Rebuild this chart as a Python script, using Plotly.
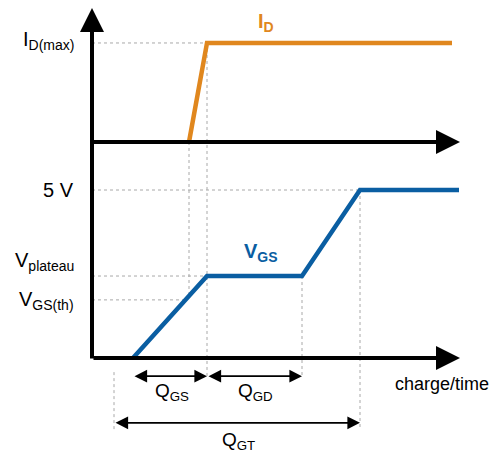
import plotly.graph_objects as go

# ---------------- data (schematic units) ----------------
# charge/time axis: arbitrary units
q_id = [9.7, 11.5, 36.0]          # drain current trace
i_d = [0.0, 1.0, 1.0]             # normalised I_D (1 = I_D(max))

V_PLATEAU = 2.44
V_TH = 1.73
V_FINAL = 5.0
q_vgs = [4.1, 11.5, 21.0, 26.8, 36.7]
v_gs = [0.0, V_PLATEAU, V_PLATEAU, V_FINAL, V_FINAL]

Q_AXIS_END = 36.8
I_AXIS_TOP = 1.354

left_labels = ["I<sub>D(max)</sub>", "5 V", "V<sub>plateau</sub>", "V<sub>GS(th)</sub>"]

# ---------------- layout geometry ----------------
W, H = 502, 453
X_RANGE = [-9.2, 41.0]
V_RANGE = [-2.827, 10.655]      # lower (gate voltage) panel scale
I_RANGE = [-3.141, 1.434]       # upper (drain current) panel scale


def v_to_i(v):
    f = (v - V_RANGE[0]) / (V_RANGE[1] - V_RANGE[0])
    return I_RANGE[0] + f * (I_RANGE[1] - I_RANGE[0])


def i_to_v(i):
    f = (i - I_RANGE[0]) / (I_RANGE[1] - I_RANGE[0])
    return V_RANGE[0] + f * (V_RANGE[1] - V_RANGE[0])


def vgs_at(q):
    for k in range(len(q_vgs) - 1):
        if q_vgs[k] <= q <= q_vgs[k + 1]:
            t = (q - q_vgs[k]) / (q_vgs[k + 1] - q_vgs[k])
            return v_gs[k] + t * (v_gs[k + 1] - v_gs[k])
    return 0.0


ORANGE = "#E0871E"
BLUE = "#0A5EA2"
GRID = "#A8A8A8"
FONT = "Liberation Sans, Arial, Helvetica, sans-serif"

Q_LEVEL_1 = -0.54   # Q_GS / Q_GD arrows
Q_LEVEL_2 = -1.93   # Q_GT arrow
Q_PRE = 2.2         # start of Q_GT

fig = go.Figure()


def dashed(xs, ys, yaxis="y"):
    fig.add_trace(go.Scatter(x=xs, y=ys, mode="lines", yaxis=yaxis,
                             line=dict(color=GRID, width=1, dash="dot"),
                             hoverinfo="skip", showlegend=False))


# guide lines
dashed([0, q_id[1]], [1, 1], "y2")
dashed([q_id[0], q_id[0]], [i_to_v(0), vgs_at(q_id[0])])
dashed([q_vgs[1], q_vgs[1]], [i_to_v(1), Q_LEVEL_1 - 0.05])
dashed([q_vgs[2], q_vgs[2]], [V_PLATEAU, Q_LEVEL_1])
dashed([q_vgs[3], q_vgs[3]], [V_FINAL, Q_LEVEL_2 - 0.2])
dashed([Q_PRE, Q_PRE], [Q_LEVEL_1 + 0.12, Q_LEVEL_2 - 0.2])
dashed([0, q_vgs[3]], [V_FINAL, V_FINAL])
dashed([0, q_vgs[1]], [V_PLATEAU, V_PLATEAU])
q_th = q_vgs[0] + V_TH / V_PLATEAU * (q_vgs[1] - q_vgs[0])
dashed([0, q_th], [V_TH, V_TH])

# traces
fig.add_trace(go.Scatter(x=q_id, y=i_d, yaxis="y2", mode="lines",
                         line=dict(color=ORANGE, width=4.5),
                         hoverinfo="skip", showlegend=False))
fig.add_trace(go.Scatter(x=q_vgs, y=v_gs, mode="lines",
                         line=dict(color=BLUE, width=4.5),
                         hoverinfo="skip", showlegend=False))

ann = []


def arrow(x, y, ax, ay, yref="y", width=4, size=1.2, both=False):
    ann.append(dict(x=x, y=y, ax=ax, ay=ay, xref="x", yref=yref,
                    axref="x", ayref=yref, text="", showarrow=True,
                    arrowhead=2, arrowwidth=width, arrowsize=size,
                    arrowcolor="black", standoff=0, startstandoff=0,
                    startarrowhead=2, startarrowsize=size,
                    arrowside="end+start" if both else "end"))


# axes
arrow(Q_AXIS_END, 0, -0.0, 0, "y2")
arrow(Q_AXIS_END, 0, -0.0, 0, "y")
arrow(0, I_AXIS_TOP, 0, v_to_i(-0.06), "y2")

# charge spans
arrow(q_vgs[1], Q_LEVEL_1, q_vgs[0], Q_LEVEL_1, width=1.8, size=1.4, both=True)
arrow(q_vgs[2], Q_LEVEL_1, q_vgs[1], Q_LEVEL_1, width=1.8, size=1.4, both=True)
arrow(q_vgs[3], Q_LEVEL_2, Q_PRE, Q_LEVEL_2, width=1.8, size=1.4, both=True)


def text(x, y, s, yref="y", size=20, color="black", xanchor="center", bold=False):
    ann.append(dict(x=x, y=y, xref="x", yref=yref, text=("<b>%s</b>" % s) if bold else s,
                    showarrow=False, xanchor=xanchor, yanchor="middle",
                    font=dict(family=FONT, size=size, color=color)))


text(-1.6, 1.03, left_labels[0], "y2", xanchor="right")
text(-1.6, V_FINAL, left_labels[1], xanchor="right")
text(-1.6, 2.86, left_labels[2], xanchor="right")
text(-1.6, 1.72, left_labels[3], xanchor="right")

text(16.4, 1.21, "I<sub>D</sub>", "y2", color=ORANGE, xanchor="left", bold=True)
text(15.0, 3.13, "V<sub>GS</sub>", color=BLUE, xanchor="left", bold=True)

text(8.0, -1.01, "Q<sub>GS</sub>", size=19)
text(16.3, -1.01, "Q<sub>GD</sub>", size=19)
text(14.6, -2.47, "Q<sub>GT</sub>", size=19)
text(35.0, -0.77, "charge/time", size=18)

fig.update_layout(
    width=W, height=H,
    margin=dict(l=0, r=0, t=0, b=0),
    paper_bgcolor="white", plot_bgcolor="white",
    xaxis=dict(range=X_RANGE, visible=False, fixedrange=True),
    yaxis=dict(range=V_RANGE, visible=False, fixedrange=True),
    yaxis2=dict(range=I_RANGE, visible=False, overlaying="y", fixedrange=True),
    annotations=ann,
    showlegend=False,
)

fig.write_html("out.html", post_script="document.body.style.margin='0px';",
               config={"displayModeBar": False})
